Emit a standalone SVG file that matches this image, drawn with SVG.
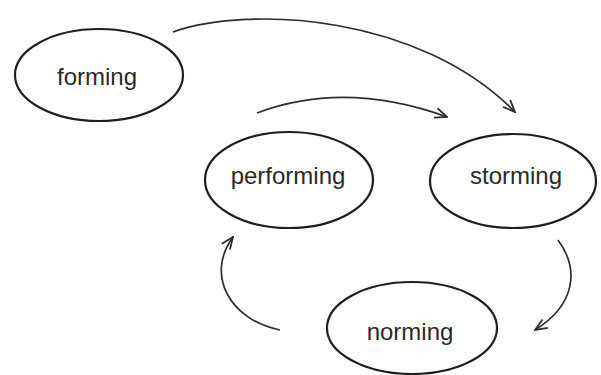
<svg xmlns="http://www.w3.org/2000/svg" width="601" height="375" viewBox="0 0 601 375">
<defs>
<style>
.node ellipse{fill:none;stroke:#1e1e1e;stroke-width:2.2}
.node text{font-family:"Liberation Sans",Arial,sans-serif;font-size:24px;fill:#2a2a2a;text-anchor:middle}
.conn path{fill:none;stroke:#2e2e2e;stroke-width:1.7;marker-end:url(#arr)}
</style>
<marker id="arr" viewBox="0 0 14 12" refX="13" refY="6" markerWidth="14" markerHeight="12" markerUnits="userSpaceOnUse" orient="auto">
<path d="M1,1 L13,6 L1,11" fill="none" stroke="#2e2e2e" stroke-width="1.8"/>
</marker>
</defs>
<rect width="601" height="375" fill="#ffffff"/>
<g id="forming" class="node">
<ellipse cx="99" cy="75" rx="84" ry="46"/>
<text x="97" y="85">forming</text>
</g>
<g id="performing" class="node">
<ellipse cx="289" cy="180" rx="84" ry="48"/>
<text x="288" y="184">performing</text>
</g>
<g id="storming" class="node">
<ellipse cx="513" cy="181" rx="83" ry="47"/>
<text x="516" y="184">storming</text>
</g>
<g id="norming" class="node">
<ellipse cx="412" cy="328" rx="85" ry="46"/>
<text x="410" y="340">norming</text>
</g>
<g id="connectors" class="conn">
<path d="M173,32 C250,5 420,15 515,112"/>
<path d="M257,113 Q345,80 447,117"/>
<path d="M558,240 C580,270 575,305 535,330"/>
<path d="M280,330 C230,320 205,275 233,237"/>
</g>
</svg>
